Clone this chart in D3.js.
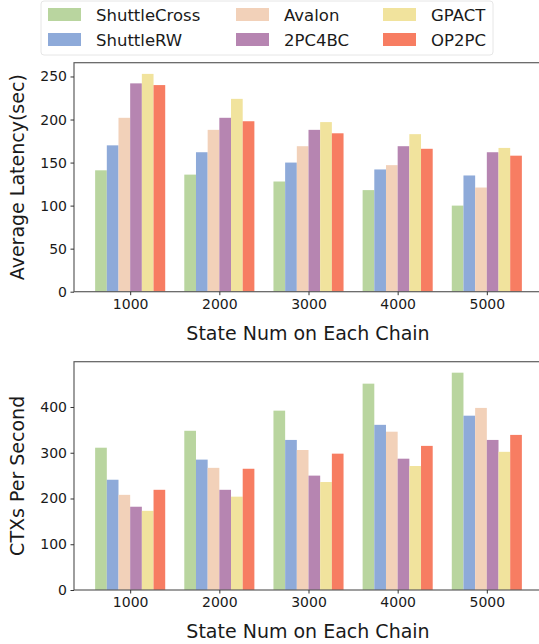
<html>
<head>
<style>
  body { margin: 0; background: #fff; }
  text { font-family: "DejaVu Sans", sans-serif; fill: #1a1a1a; }
  .frame { fill: none; stroke: #5e5e5e; stroke-width: 1.2; }
</style>
</head>
<body>
<svg id="chart" width="539" height="644"></svg>
<script src="https://cdn.jsdelivr.net/npm/d3@7"></script>
<script>
// data
let stateNums = ["1000", "2000", "3000", "4000", "5000"]
let methods = ["ShuttleCross", "ShuttleRW", "Avalon", "2PC4BC", "GPACT", "OP2PC"]
let colors = ["#b9d59f", "#8eaad9", "#f2d1b9", "#b685b1", "#f1e39d", "#f77d62"]

let latency = [
    [141, 136, 128, 118, 100],   // ShuttleCross
    [170, 162, 150, 142, 135],   // ShuttleRW
    [202, 188, 169, 147, 121],   // Avalon
    [242, 202, 188, 169, 162],   // 2PC4BC
    [253, 224, 197, 183, 167],   // GPACT
    [240, 198, 184, 166, 158]    // OP2PC
]
let ctxs = [
    [311, 348, 392, 451, 475],
    [241, 285, 328, 361, 381],
    [208, 267, 306, 346, 398],
    [182, 219, 250, 287, 328],
    [173, 204, 236, 271, 302],
    [219, 265, 298, 315, 339]
]
let latencyTicks = [0, 50, 100, 150, 200, 250]
let ctxsTicks = [0, 100, 200, 300, 400]

let svg = d3.select("#chart")
let barW = 0.131

// x positions are group index 0..4; right side of frame falls past the picture edge
let xScale = d3.scaleLinear().domain([-0.63, 4.63]).range([74, 543])

function panel(values, yMax, yTicks, top, bottom, yLabel) {
    let yScale = d3.scaleLinear().domain([0, yMax]).range([bottom, top])
    let g = svg.append("g")

    methods.forEach((m, j) => {
        g.selectAll(null)
            .data(values[j])
            .enter().append("rect")
            .attr("x", (d, i) => xScale(i + (j - 3) * barW))
            .attr("width", xScale(barW) - xScale(0))
            .attr("y", d => yScale(d))
            .attr("height", d => yScale(0) - yScale(d))
            .attr("fill", colors[j])
    })

    g.append("rect").attr("class", "frame")
        .attr("x", xScale(-0.63)).attr("y", top)
        .attr("width", xScale(4.63) - xScale(-0.63)).attr("height", bottom - top)

    let yAxis = g.append("g")
        .attr("transform", "translate(" + xScale(-0.63) + ",0)")
        .call(d3.axisLeft(yScale).tickValues(yTicks).tickSize(3.5).tickPadding(3.5))
    let xAxis = g.append("g")
        .attr("transform", "translate(0," + bottom + ")")
        .call(d3.axisBottom(xScale).tickValues(d3.range(5)).tickFormat(i => stateNums[i]).tickSize(3.5).tickPadding(3.5))
    ;[xAxis, yAxis].forEach(a => {
        a.select(".domain").remove()
        a.selectAll("line").attr("stroke", "#333")
        a.selectAll("text").style("font-size", "14px").attr("fill", "#1a1a1a")
    })

    g.append("text")
        .attr("x", 308).attr("y", bottom + 48)
        .attr("text-anchor", "middle").style("font-size", "19px")
        .text("State Num on Each Chain")
    g.append("text")
        .attr("transform", "translate(24," + (top + bottom) / 2 + ") rotate(-90)")
        .attr("text-anchor", "middle").style("font-size", "19px")
        .text(yLabel)
}

panel(latency, 266, latencyTicks, 62.7, 291.7, "Average Latency(sec)")
panel(ctxs, 499, ctxsTicks, 361.7, 590, "CTXs Per Second")

// legend
let legend = svg.append("g")
legend.append("rect")
    .attr("x", 41).attr("y", 1).attr("width", 452).attr("height", 54)
    .attr("rx", 3).attr("fill", "#fff").attr("stroke", "#e6e6e6")
let colX = [48, 236, 383]
methods.forEach((m, j) => {
    let col = Math.floor(j / 2), row = j % 2
    legend.append("rect")
        .attr("x", colX[col]).attr("y", 8 + row * 25)
        .attr("width", 33).attr("height", 13)
        .attr("fill", colors[j])
    legend.append("text")
        .attr("x", colX[col] + 48).attr("y", 20.5 + row * 25)
        .style("font-size", "16.5px")
        .text(m)
})
</script>
</body>
</html>
